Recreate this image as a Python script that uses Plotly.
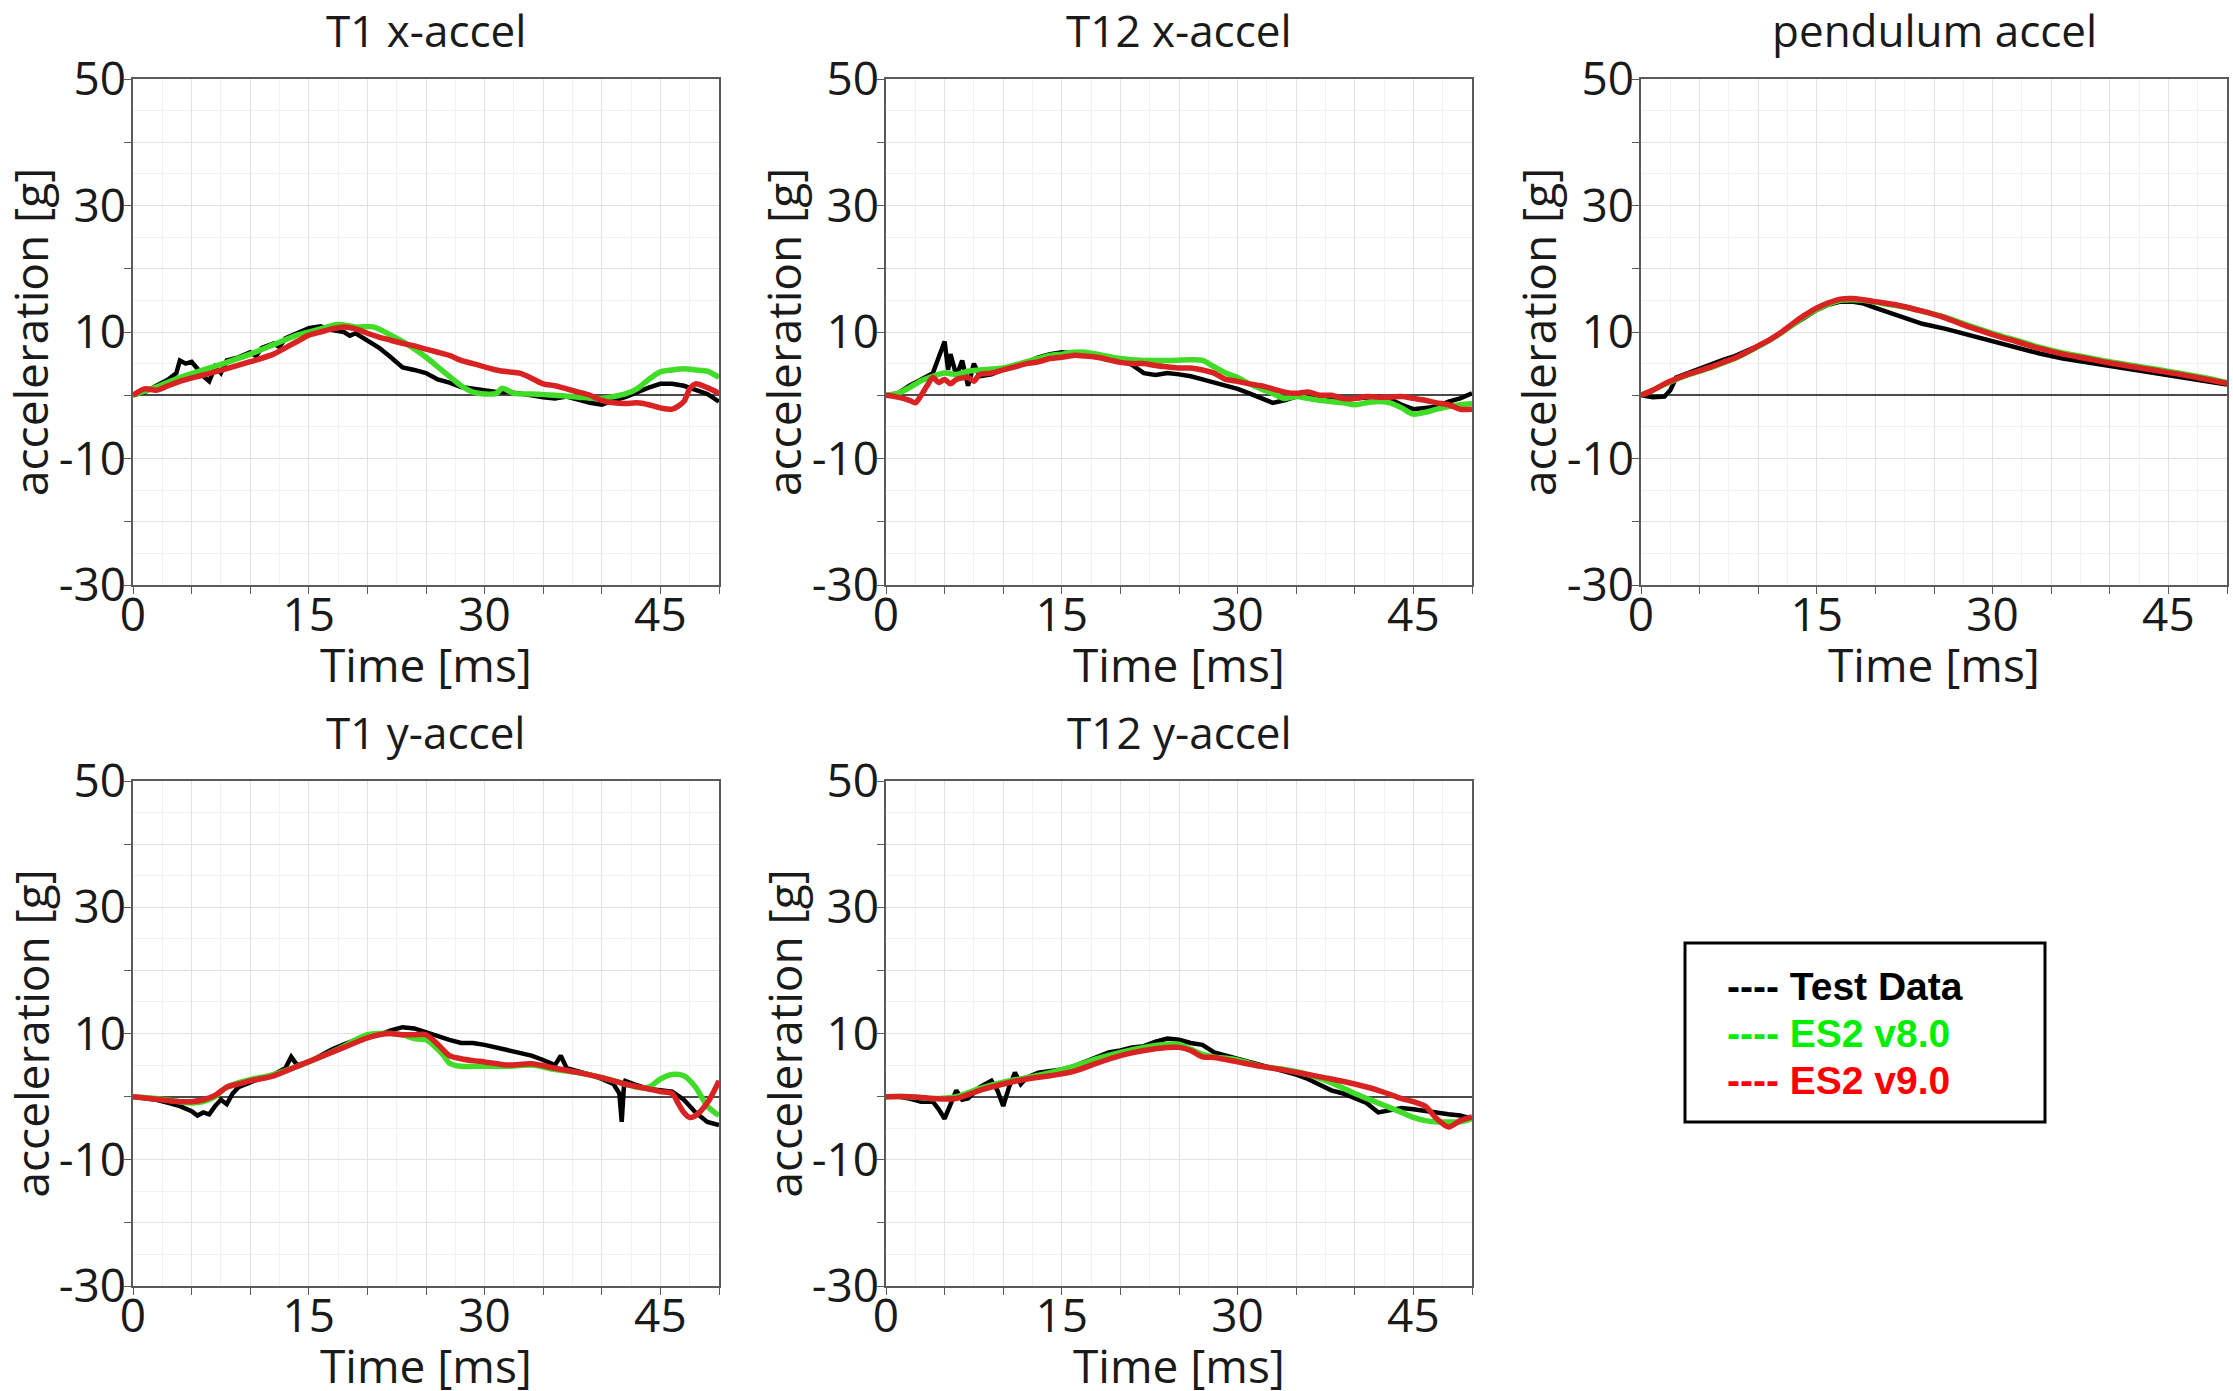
import plotly.graph_objects as go

# ---------------- data ----------------
panel_titles = ["T1 x-accel", "T12 x-accel", "pendulum accel", "T1 y-accel", "T12 y-accel"]
series_names = ["Test Data", "ES2 v8.0", "ES2 v9.0"]
x_title = "Time [ms]"
y_title = "acceleration [g]"
x_tickvals = [0, 5, 10, 15, 20, 25, 30, 35, 40, 45, 50]
x_ticktext = ["0", "", "", "15", "", "", "30", "", "", "45", ""]
y_tickvals = [-30, -20, -10, 0, 10, 20, 30, 40, 50]
y_ticktext = ["-30", "", "-10", "", "10", "", "30", "", "50"]

# T1 x-accel
t1x_test_t = [0, 1, 2, 3, 3.7, 4, 4.5, 5, 5.5, 6, 6.5, 7, 7.5, 8, 9, 10, 10.5, 11, 12, 12.5, 13, 14, 15, 16, 17, 18, 18.5, 19, 20, 21, 22, 22.5, 23, 24, 25, 26, 27, 28, 29, 30, 31, 32, 33, 34, 35, 36, 37, 38, 39, 40, 41, 42, 43, 44, 45, 46, 47, 48, 49, 50]
t1x_test_v = [0, 0.5, 1.5, 2.5, 3.5, 5.5, 5.0, 5.3, 4.2, 3.0, 2.2, 4.5, 3.5, 5.5, 6.0, 6.8, 6.2, 7.5, 8.2, 7.6, 9.0, 9.8, 10.6, 10.9, 10.3, 10.0, 9.4, 9.8, 8.6, 7.5, 6.0, 5.2, 4.4, 4.0, 3.5, 2.5, 2.0, 1.3, 1.0, 0.7, 0.5, 0.5, 0.3, 0.0, -0.3, -0.5, -0.2, -0.7, -1.2, -1.5, -0.8, -0.3, 0.5, 1.2, 1.8, 1.8, 1.5, 0.8, 0.2, -1.0]
t1x_v8_t = [0, 2, 4, 6, 8, 10, 12, 14, 16, 17.5, 19, 20.5, 22, 23, 24, 25, 26, 27, 28, 29, 30, 31, 31.5, 32.5, 34, 36, 38, 40, 41, 42, 43, 44, 45, 46, 47, 48, 49, 50]
t1x_v8_v = [0, 1.3, 2.8, 4.0, 5.2, 6.5, 8.0, 9.5, 10.5, 11.2, 10.8, 10.8, 9.5, 8.5, 7.3, 6.0, 4.5, 3.0, 1.5, 0.5, 0.2, 0.3, 1.1, 0.3, 0.2, 0.0, -0.3, -0.5, -0.2, 0.2, 1.0, 2.5, 3.7, 4.0, 4.2, 4.0, 3.8, 2.8]
t1x_v9_t = [0, 1, 2, 3, 4, 6, 8, 10, 12, 13, 14, 15, 16, 17, 18, 19, 20, 21, 22, 23, 24, 25, 26, 27, 28, 29, 30, 31, 32, 33, 34, 35, 36, 37, 38, 39, 40, 41, 42, 43, 44, 45, 46, 47, 47.5, 48, 49, 50]
t1x_v9_v = [0, 1.0, 0.8, 1.5, 2.2, 3.2, 4.2, 5.3, 6.5, 7.5, 8.5, 9.5, 10.0, 10.5, 10.8, 10.5, 9.8, 9.2, 8.7, 8.2, 7.8, 7.3, 6.8, 6.3, 5.5, 5.0, 4.5, 4.0, 3.7, 3.5, 2.7, 1.8, 1.5, 1.0, 0.5, 0.0, -0.8, -1.2, -1.3, -1.2, -1.5, -2.0, -2.2, -1.0, 1.0, 1.8, 1.2, 0.3]

# T12 x-accel
t12x_test_t = [0, 1, 2, 3, 4, 4.5, 5, 5.3, 5.5, 5.8, 6, 6.5, 7, 7.5, 8, 9, 10, 11, 12, 13, 14, 15, 16, 17, 18, 19, 20, 21, 22, 23, 24, 25, 26, 27, 28, 29, 30, 31, 32, 33, 34, 35, 36, 37, 38, 39, 40, 41, 42, 43, 44, 45, 46, 47, 48, 49, 50]
t12x_test_v = [0, 0.3, 1.5, 2.5, 3.5, 6.0, 8.5, 4.0, 6.5, 4.5, 3.0, 5.5, 1.5, 5.0, 3.0, 3.3, 4.0, 4.8, 5.2, 6.0, 6.5, 6.8, 6.6, 6.3, 6.0, 5.7, 5.5, 4.8, 3.5, 3.2, 3.5, 3.3, 3.0, 2.5, 2.0, 1.5, 1.0, 0.3, -0.5, -1.2, -0.8, -0.2, -0.3, -0.5, -0.3, -0.8, -0.5, -0.3, -0.2, -0.6, -1.5, -2.2, -2.0, -1.8, -1.0, -0.5, 0.3]
t12x_v8_t = [0, 1, 2, 3, 4, 5, 6, 7, 8, 10, 12, 14, 15, 16, 17, 18, 20, 22, 24, 26, 27, 28, 29, 30, 31, 32, 33, 34, 35, 36, 37, 38, 39, 40, 41, 42, 43, 44, 45, 46, 47, 48, 49, 50]
t12x_v8_v = [0, 0.3, 1.2, 2.3, 3.0, 3.5, 3.3, 3.8, 4.0, 4.3, 5.3, 6.3, 6.5, 6.8, 6.8, 6.5, 5.8, 5.5, 5.5, 5.6, 5.5, 4.5, 3.5, 2.8, 1.8, 1.0, 0.3, -0.5, -0.2, -0.5, -0.8, -1.0, -1.2, -1.5, -1.2, -1.0, -1.2, -2.0, -3.0, -2.7, -2.2, -1.8, -1.5, -1.3]
t12x_v9_t = [0, 1, 2, 2.5, 3, 3.5, 4, 4.5, 5, 5.5, 6, 7, 7.5, 8, 9, 10, 11, 12, 13, 14, 15, 16, 17, 18, 19, 20, 21, 22, 23, 24, 25, 26, 27, 28, 29, 30, 31, 32, 33, 34, 35, 36, 37, 38, 39, 40, 41, 42, 43, 44, 45, 46, 47, 48, 49, 50]
t12x_v9_v = [0, -0.3, -0.8, -1.2, 0.0, 1.5, 2.8, 2.0, 2.5, 1.8, 2.5, 2.8, 2.2, 3.3, 3.5, 4.0, 4.5, 5.0, 5.3, 5.8, 6.0, 6.3, 6.2, 6.0, 5.6, 5.2, 5.0, 5.0, 4.7, 4.5, 4.3, 4.3, 4.0, 3.5, 2.5, 2.2, 1.8, 1.5, 1.0, 0.5, 0.3, 0.5, 0.0, 0.0, -0.5, -0.5, -0.2, -0.3, -0.3, -0.2, -0.5, -0.8, -1.2, -1.5, -2.2, -2.2]

# pendulum accel
pend_test_t = [0, 1, 2, 2.5, 3, 4, 5, 6, 7, 8, 9, 10, 11, 12, 13, 14, 15, 16, 17, 18, 19, 20, 21, 22, 24, 26, 28, 30, 32, 34, 36, 38, 40, 42, 44, 46, 48, 50]
pend_test_v = [0, -0.3, -0.2, 0.8, 2.8, 3.5, 4.2, 5.0, 5.6, 6.2, 7.0, 7.8, 8.8, 10.0, 11.2, 12.5, 13.5, 14.3, 14.8, 14.8, 14.5, 13.8, 13.2, 12.5, 11.3, 10.5, 9.5, 8.5, 7.5, 6.6, 5.8, 5.2, 4.6, 4.0, 3.5, 2.9, 2.3, 1.7]
pend_v8_t = [0, 1, 2, 3, 4, 5, 6, 7, 8, 9, 10, 11, 12, 13, 14, 15, 16, 17, 18, 19, 20, 22, 24, 26, 28, 30, 32, 34, 36, 38, 40, 42, 44, 46, 48, 50]
pend_v8_v = [0, 0.8, 1.7, 2.5, 3.2, 3.8, 4.4, 5.1, 5.8, 6.7, 7.7, 8.7, 9.9, 11.2, 12.5, 13.6, 14.4, 15.0, 15.1, 15.0, 14.7, 14.1, 13.3, 12.3, 11.0, 9.8, 8.7, 7.6, 6.7, 6.0, 5.3, 4.7, 4.1, 3.5, 2.8, 2.0]
pend_v9_t = [0, 1, 2, 3, 4, 5, 6, 7, 8, 9, 10, 11, 12, 13, 14, 15, 16, 17, 18, 19, 20, 22, 24, 26, 28, 30, 32, 34, 36, 38, 40, 42, 44, 46, 48, 50]
pend_v9_v = [0, 0.8, 1.8, 2.6, 3.3, 3.9, 4.5, 5.2, 5.9, 6.8, 7.8, 8.8, 10.0, 11.4, 12.7, 13.8, 14.6, 15.2, 15.3, 15.1, 14.8, 14.2, 13.3, 12.2, 10.8, 9.6, 8.5, 7.4, 6.5, 5.8, 5.1, 4.5, 3.9, 3.3, 2.6, 1.9]

# T1 y-accel
t1y_test_t = [0, 1, 2, 3, 4, 5, 5.5, 6, 6.5, 7, 7.5, 8, 8.5, 9, 10, 11, 12, 13, 13.5, 14, 15, 16, 17, 18, 19, 20, 21, 22, 23, 24, 25, 26, 27, 28, 29, 30, 31, 32, 33, 34, 35, 36, 36.5, 37, 38, 39, 40, 41, 41.5, 41.7, 41.9, 42, 43, 44, 45, 46, 47, 48, 49, 50]
t1y_test_v = [0, -0.3, -0.5, -1.0, -1.5, -2.3, -3.0, -2.5, -2.8, -1.5, -0.5, -1.2, 0.5, 1.5, 2.3, 3.0, 3.5, 4.5, 6.3, 5.0, 5.5, 6.5, 7.5, 8.3, 9.0, 9.5, 9.8, 10.5, 11.0, 10.8, 10.2, 9.5, 9.0, 8.5, 8.5, 8.2, 7.8, 7.3, 7.0, 6.5, 5.8, 5.0, 6.5, 4.5, 4.0, 3.5, 2.8, 2.0, 0.5, -4.0, 2.0, 2.5, 1.8, 1.2, 1.0, 0.8, -0.5, -2.5, -4.0, -4.5]
t1y_v8_t = [0, 2, 4, 5, 6, 7, 8, 9, 10, 12, 14, 16, 18, 19, 20, 21, 22, 23, 24, 25, 26, 26.5, 27, 28, 29, 30, 32, 34, 36, 38, 40, 42, 43, 44, 45, 46, 47, 48, 49, 50]
t1y_v8_v = [0, -0.3, -0.8, -1.0, -0.8, 0.0, 1.5, 2.2, 2.7, 3.5, 4.8, 6.3, 8.0, 9.0, 9.8, 10.0, 10.0, 9.8, 9.2, 9.0, 7.5, 6.5, 5.3, 4.8, 4.8, 4.8, 4.8, 5.0, 4.3, 3.8, 3.0, 2.0, 1.5, 1.5, 2.8, 3.5, 3.3, 1.5, -1.5, -3.0]
t1y_v9_t = [0, 2, 4, 5, 6, 7, 8, 9, 10, 12, 14, 16, 18, 20, 21, 22, 23, 24, 25, 26, 27, 28, 29, 30, 32, 34, 36, 38, 40, 42, 44, 45, 46, 46.5, 47, 47.5, 48, 49, 50]
t1y_v9_v = [0, -0.4, -0.8, -0.8, -0.5, 0.2, 1.5, 2.0, 2.5, 3.3, 4.8, 6.3, 7.8, 9.3, 9.8, 10.0, 9.8, 9.8, 9.8, 8.3, 6.5, 6.0, 5.7, 5.5, 5.0, 5.2, 4.5, 3.8, 3.0, 2.0, 1.2, 0.8, 0.5, -1.0, -2.5, -3.3, -3.0, -1.0, 2.5]

# T12 y-accel
t12y_test_t = [0, 1, 2, 3, 4, 4.5, 5, 5.5, 6, 6.5, 7, 8, 9, 9.5, 10, 10.5, 11, 11.5, 12, 13, 14, 15, 16, 17, 18, 19, 20, 21, 22, 23, 24, 25, 26, 27, 28, 29, 30, 31, 32, 33, 34, 35, 36, 37, 38, 39, 40, 41, 42, 43, 44, 45, 46, 47, 48, 49, 50]
t12y_test_v = [0, 0, -0.3, -0.8, -0.8, -2.0, -3.5, -1.0, 1.0, -0.5, -0.3, 1.5, 2.5, 1.0, -1.5, 1.5, 3.8, 2.0, 3.0, 3.8, 4.0, 4.3, 4.8, 5.5, 6.3, 7.0, 7.3, 7.8, 8.0, 8.7, 9.2, 9.0, 8.5, 8.2, 7.0, 6.5, 6.0, 5.5, 5.0, 4.5, 4.0, 3.5, 2.8, 1.8, 1.0, 0.5, -0.3, -1.0, -2.5, -2.2, -1.8, -2.0, -2.3, -2.5, -2.8, -3.0, -3.5]
t12y_v8_t = [0, 2, 4, 6, 8, 10, 12, 14, 16, 18, 20, 22, 24, 25, 26, 27, 28, 30, 32, 34, 36, 38, 40, 42, 44, 45, 46, 47, 48, 49, 50]
t12y_v8_v = [0, 0, -0.3, 0, 1.3, 2.3, 3.0, 3.8, 4.8, 6.0, 7.0, 7.8, 8.3, 8.3, 7.5, 6.7, 6.3, 5.8, 4.8, 4.3, 3.5, 2.2, 0.5, -1.0, -2.5, -3.3, -3.8, -4.0, -4.0, -4.0, -3.5]
t12y_v9_t = [0, 2, 4, 6, 8, 10, 12, 14, 16, 18, 20, 22, 24, 25, 26, 27, 28, 30, 32, 34, 36, 38, 40, 42, 44, 45, 46, 47, 48, 49, 50]
t12y_v9_v = [0, 0, -0.3, -0.3, 1.0, 2.0, 2.8, 3.3, 4.0, 5.3, 6.5, 7.3, 7.8, 7.8, 7.3, 6.3, 6.2, 5.5, 4.8, 4.2, 3.5, 2.8, 2.0, 1.0, -0.3, -0.8, -1.5, -3.5, -4.8, -3.8, -3.2]

panels = [
    (t1x_test_t, t1x_test_v, t1x_v8_t, t1x_v8_v, t1x_v9_t, t1x_v9_v),
    (t12x_test_t, t12x_test_v, t12x_v8_t, t12x_v8_v, t12x_v9_t, t12x_v9_v),
    (pend_test_t, pend_test_v, pend_v8_t, pend_v8_v, pend_v9_t, pend_v9_v),
    (t1y_test_t, t1y_test_v, t1y_v8_t, t1y_v8_v, t1y_v9_t, t1y_v9_v),
    (t12y_test_t, t12y_test_v, t12y_v8_t, t12y_v8_v, t12y_v9_t, t12y_v9_v),
]

# ---------------- layout geometry ----------------
W, H = 2233, 1391
col_px = [(133, 719), (886, 1472), (1641, 2227)]
row_px = [(79, 585), (781, 1286)]
positions = [(0, 0), (0, 1), (0, 2), (1, 0), (1, 1)]

FONT = "Open Sans, Noto Sans, DejaVu Sans, sans-serif"
TXT = "#1a1a1a"
line_colors = ["#000000", "#40dc28", "#d92222"]
line_widths = [4.5, 5.5, 5.5]

fig = go.Figure()
layout_axes = {}
annotations = []

for i, ((r, c), data, title) in enumerate(zip(positions, panels, panel_titles)):
    idx = "" if i == 0 else str(i + 1)
    xa, ya = "x" + idx, "y" + idx
    x0, x1 = col_px[c]
    yt, yb = row_px[r]
    xd = [x0 / W, x1 / W]
    yd = [1 - yb / H, 1 - yt / H]
    for k in range(3):
        tt, vv = data[2 * k], data[2 * k + 1]
        fig.add_trace(go.Scatter(
            x=tt, y=vv, mode="lines", name=series_names[k], showlegend=False,
            line=dict(color=line_colors[k], width=line_widths[k],
                      shape="linear" if k == 0 else "spline", smoothing=0.8),
            xaxis=xa, yaxis=ya))
    common = dict(showline=True, mirror=True, linecolor="#5a5a5a", linewidth=1.5,
                  ticks="outside", ticklen=7, tickcolor="#5a5a5a", tickwidth=1,
                  gridcolor="#e2e2e2", gridwidth=1, automargin=False,
                  tickfont=dict(family=FONT, size=46, color=TXT))
    layout_axes["xaxis" + idx] = dict(
        common, domain=xd, anchor=ya, range=[0, 50], tickmode="array",
        tickvals=x_tickvals, ticktext=x_ticktext, zeroline=False,
        ticklabelstandoff=-18,
        minor=dict(dtick=2.5, tick0=0, showgrid=True, gridcolor="#f1f1f1", gridwidth=1, ticks=""))
    layout_axes["yaxis" + idx] = dict(
        common, domain=yd, anchor=xa, range=[-30, 50], tickmode="array",
        tickvals=y_tickvals, ticktext=y_ticktext, zeroline=True,
        zerolinecolor="#4a4a4a", zerolinewidth=1.5, ticklabelstandoff=-11,
        minor=dict(dtick=5, tick0=0, showgrid=True, gridcolor="#f1f1f1", gridwidth=1, ticks=""))
    # subplot title
    annotations.append(dict(
        text=title, xref="paper", yref="paper", x=(xd[0] + xd[1]) / 2,
        y=1 - ((yt - 49) / H), xanchor="center", yanchor="middle", showarrow=False,
        font=dict(family=FONT, size=44, color=TXT)))
    # x axis title
    annotations.append(dict(
        text=x_title, xref="paper", yref="paper", x=(xd[0] + xd[1]) / 2,
        y=1 - ((yb + 79) / H), xanchor="center", yanchor="middle", showarrow=False,
        font=dict(family=FONT, size=46, color=TXT)))
    # y axis title
    annotations.append(dict(
        text=y_title, xref="paper", yref="paper", x=(x0 - 103) / W,
        y=(yd[0] + yd[1]) / 2, xanchor="center", yanchor="middle", showarrow=False,
        textangle=-90, font=dict(family=FONT, size=46, color=TXT)))

# legend box drawn as text
leg_x0, leg_x1, leg_y0, leg_y1 = 1685, 2045, 943, 1122
legend_colors = ["#000000", "#00ee00", "#ff0000"]
legend_centers = [987, 1033, 1080]
for name, col, yc in zip(series_names, legend_colors, legend_centers):
    annotations.append(dict(
        text="<b>---- " + name + "</b>", xref="paper", yref="paper",
        x=1725 / W, y=1 - yc / H, xanchor="left", yanchor="middle", showarrow=False,
        font=dict(family="Liberation Sans, Arial, sans-serif", size=39, color=col)))

fig.update_layout(
    width=W, height=H, margin=dict(l=0, r=0, t=0, b=0),
    paper_bgcolor="white", plot_bgcolor="white",
    annotations=annotations,
    shapes=[dict(type="rect", xref="paper", yref="paper",
                 x0=leg_x0 / W, x1=leg_x1 / W, y0=1 - leg_y1 / H, y1=1 - leg_y0 / H,
                 line=dict(color="black", width=3), fillcolor="rgba(0,0,0,0)")],
    **layout_axes)

fig.write_html("out.html", config={"displayModeBar": False},
               post_script="document.body.style.margin='0';document.body.style.overflow='hidden';")
